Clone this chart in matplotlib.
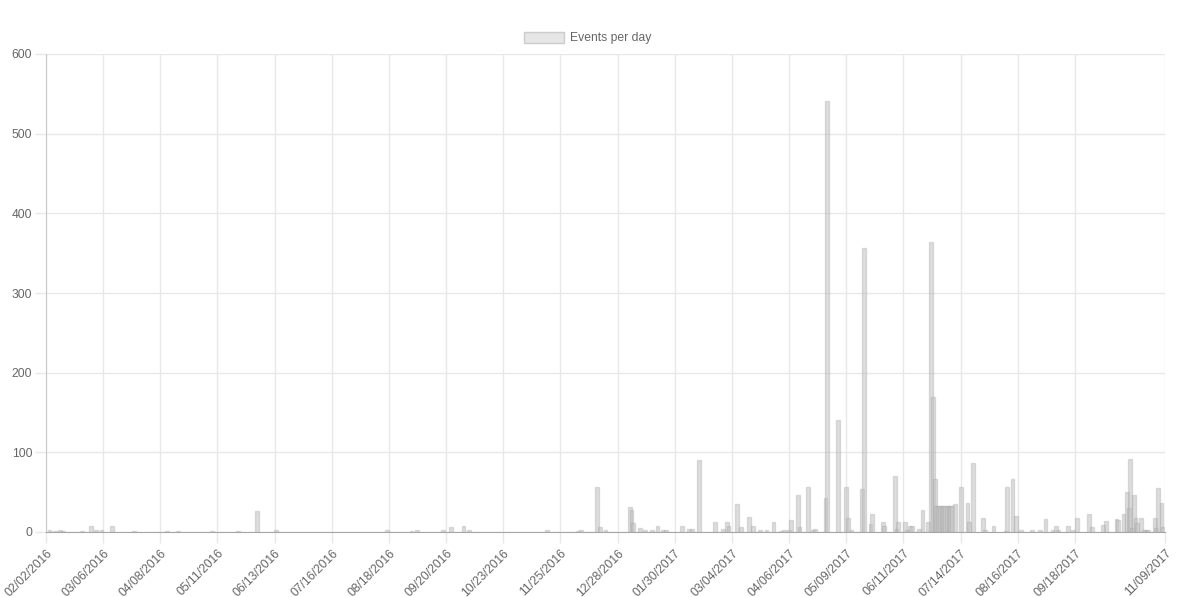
import numpy as np
import pandas as pd
import matplotlib
matplotlib.use("Agg")
import matplotlib.pyplot as plt
import matplotlib.dates as mdates
from matplotlib.patches import Patch

# ── Data (days with events) ───────────────────────────────────────────────────
event_dates = [
    "2016-02-04", "2016-02-07", "2016-02-10", "2016-02-12", "2016-02-23",
    "2016-02-28", "2016-03-02", "2016-03-05", "2016-03-11", "2016-03-24",
    "2016-04-12", "2016-04-18", "2016-05-08", "2016-05-23", "2016-06-03",
    "2016-06-14", "2016-08-17", "2016-08-31", "2016-09-03", "2016-09-18",
    "2016-09-23", "2016-09-30", "2016-10-03", "2016-11-17", "2016-12-05",
    "2016-12-07", "2016-12-16", "2016-12-18", "2016-12-21", "2017-01-04",
    "2017-01-05", "2017-01-06", "2017-01-10", "2017-01-13", "2017-01-17",
    "2017-01-20", "2017-01-23", "2017-01-25", "2017-02-03", "2017-02-07",
    "2017-02-09", "2017-02-13", "2017-02-22", "2017-02-27", "2017-03-01",
    "2017-03-02", "2017-03-07", "2017-03-09", "2017-03-14", "2017-03-16",
    "2017-03-20", "2017-03-24", "2017-03-28", "2017-04-01", "2017-04-03",
    "2017-04-06", "2017-04-07", "2017-04-11", "2017-04-12", "2017-04-17",
    "2017-04-20", "2017-04-21", "2017-04-27", "2017-04-28", "2017-05-04",
    "2017-05-09", "2017-05-10", "2017-05-12", "2017-05-18", "2017-05-19",
    "2017-05-23", "2017-05-24", "2017-05-30", "2017-05-31", "2017-06-06",
    "2017-06-07", "2017-06-08", "2017-06-12", "2017-06-13", "2017-06-15",
    "2017-06-16", "2017-06-20", "2017-06-22", "2017-06-25", "2017-06-27",
    "2017-06-28", "2017-06-29", "2017-06-30", "2017-07-01", "2017-07-02",
    "2017-07-03", "2017-07-04", "2017-07-05", "2017-07-06", "2017-07-07",
    "2017-07-08", "2017-07-09", "2017-07-11", "2017-07-14", "2017-07-18",
    "2017-07-19", "2017-07-21", "2017-07-27", "2017-07-28", "2017-08-02",
    "2017-08-09", "2017-08-10", "2017-08-13", "2017-08-15", "2017-08-18",
    "2017-08-24", "2017-08-29", "2017-09-01", "2017-09-05", "2017-09-07",
    "2017-09-08", "2017-09-14", "2017-09-17", "2017-09-19", "2017-09-26",
    "2017-09-28", "2017-10-04", "2017-10-06", "2017-10-12", "2017-10-13",
    "2017-10-16", "2017-10-18", "2017-10-19", "2017-10-20", "2017-10-21",
    "2017-10-22", "2017-10-23", "2017-10-24", "2017-10-26", "2017-10-28",
    "2017-10-29", "2017-10-30", "2017-11-03", "2017-11-04", "2017-11-05",
    "2017-11-07", "2017-11-08",
]
event_counts = [
    2, 1, 2, 1, 1,
    7, 2, 2, 7, 1,
    1, 1, 1, 1, 26,
    2, 3, 1, 2, 2,
    6, 8, 2, 2, 1,
    2, 56, 6, 2, 32,
    28, 11, 5, 3, 2,
    7, 2, 2, 7, 4,
    4, 90, 12, 4, 12,
    8, 35, 6, 19, 8,
    2, 2, 12, 1, 3,
    2, 15, 47, 6, 56,
    2, 4, 43, 541, 140,
    56, 17, 2, 54, 357,
    10, 22, 12, 8, 70,
    4, 12, 12, 3, 7,
    7, 4, 28, 12, 364,
    170, 67, 33, 33, 33,
    33, 33, 33, 33, 33,
    33, 33, 35, 56, 36,
    12, 87, 17, 3, 8,
    1, 57, 66, 20, 3,
    2, 2, 16, 2, 7,
    2, 7, 2, 17, 22,
    6, 9, 14, 16, 15,
    22, 50, 30, 92, 5,
    47, 17, 11, 17, 2,
    2, 2, 17, 5, 55,
    37, 6,
]

tick_labels = [
    "02/02/2016", "03/06/2016", "04/08/2016", "05/11/2016", "06/13/2016",
    "07/16/2016", "08/18/2016", "09/20/2016", "10/23/2016", "11/25/2016",
    "12/28/2016", "01/30/2017", "03/04/2017", "04/06/2017", "05/09/2017",
    "06/11/2017", "07/14/2017", "08/16/2017", "09/18/2017", "11/09/2017",
]
y_ticks = [0, 100, 200, 300, 400, 500, 600]

dates = pd.to_datetime(event_dates)
tick_dates = pd.to_datetime(tick_labels, format="%m/%d/%Y")

# ── Plot ─────────────────────────────────────────────────────────────────────
plt.rcParams['font.family'] = ['Liberation Sans', 'DejaVu Sans']
text_col = '#666666'
grid_col = '#e8e8e8'
bar_face = (0.76, 0.76, 0.76, 0.55)
bar_edge = (0.6, 0.6, 0.6, 0.3)

fig = plt.figure(figsize=(11.81, 5.97), dpi=100)
ax = fig.add_axes([46 / 1181, 1 - 532 / 597, (1165 - 46) / 1181, (532 - 54) / 597])

ax.bar(dates, event_counts, width=2.2, color=bar_face, edgecolor=bar_edge,
       linewidth=1.0, zorder=3)

ax.set_xlim(tick_dates[0], tick_dates[-1])
ax.set_ylim(0, 600)
ax.set_yticks(y_ticks)
ax.set_xticks(tick_dates)
ax.set_xticklabels(tick_labels, rotation=45, ha='right', rotation_mode='anchor')

ax.grid(True, color=grid_col, linewidth=1, zorder=0)
ax.tick_params(axis='both', colors=grid_col, labelcolor=text_col,
               labelsize=8.7, length=8, width=1)
ax.tick_params(axis='x', pad=3)
ax.tick_params(axis='y', pad=2)

for side in ['top', 'right']:
    ax.spines[side].set_visible(False)
ax.spines['bottom'].set_color('#a6a6a6')
ax.spines['left'].set_color('#c8c8c8')

handle = Patch(facecolor='#e6e6e6', edgecolor='#cccccc', linewidth=1)
fig.legend([handle], ['Events per day'], loc='center',
           bbox_to_anchor=(588 / 1181, 1 - 38 / 597), frameon=False,
           fontsize=8.7, labelcolor=text_col, handlelength=3.3,
           handleheight=1.0, handletextpad=0.5)

plt.savefig('out.png', dpi=100)
plt.close()
